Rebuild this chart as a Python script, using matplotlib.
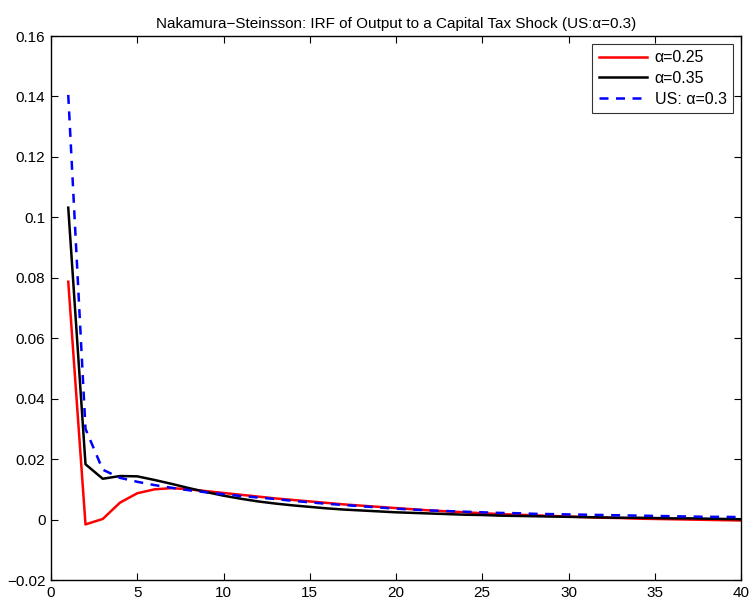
import matplotlib
matplotlib.use("Agg")
import matplotlib.pyplot as plt

plt.rcParams['font.family'] = ['Liberation Sans', 'DejaVu Sans']

periods = list(range(1, 41))
alpha_025 = [0.0787, -0.0016, 0.0002, 0.0056, 0.0087, 0.0100, 0.0104, 0.0100, 0.0094, 0.0088,
             0.0082, 0.0076, 0.0070, 0.0065, 0.0060, 0.0055, 0.0050, 0.0046, 0.0042, 0.0038,
             0.0034, 0.0030, 0.0027, 0.0024, 0.0021, 0.0018, 0.0016, 0.0014, 0.0012, 0.0010,
             0.0008, 0.0006, 0.0005, 0.0003, 0.0002, 0.0001, 0.0000, -0.0001, -0.0002, -0.0003]
alpha_035 = [0.1032, 0.0183, 0.0135, 0.0144, 0.0143, 0.0131, 0.0118, 0.0104, 0.0091, 0.0079,
             0.0069, 0.0060, 0.0053, 0.0047, 0.0042, 0.0037, 0.0033, 0.0030, 0.0027, 0.0024,
             0.0022, 0.0020, 0.0018, 0.0016, 0.0015, 0.0013, 0.0012, 0.0011, 0.0010, 0.0009,
             0.0008, 0.0007, 0.0006, 0.0006, 0.0005, 0.0004, 0.0004, 0.0003, 0.0002, 0.0001]
us_alpha_03 = [0.1405, 0.0300, 0.0165, 0.0138, 0.0125, 0.0114, 0.0105, 0.0097, 0.0090, 0.0084,
               0.0078, 0.0073, 0.0068, 0.0062, 0.0057, 0.0052, 0.0048, 0.0044, 0.0040, 0.0036,
               0.0033, 0.0030, 0.0028, 0.0026, 0.0024, 0.0022, 0.0021, 0.0019, 0.0018, 0.0017,
               0.0016, 0.0015, 0.0014, 0.0013, 0.0012, 0.0011, 0.0010, 0.0009, 0.0009, 0.0008]

xticks = [0, 5, 10, 15, 20, 25, 30, 35, 40]
yticks = [-0.02, 0, 0.02, 0.04, 0.06, 0.08, 0.1, 0.12, 0.14, 0.16]
ytick_labels = ['\u22120.02', '0', '0.02', '0.04', '0.06', '0.08', '0.1', '0.12', '0.14', '0.16']

fig = plt.figure(figsize=(7.5, 6.01), dpi=100)
ax = fig.add_axes([51/750, 21/601, 690/750, 544/601])

ax.plot(periods, alpha_025, color='#ff0000', lw=1.8, label='\u03b1=0.25')
ax.plot(periods, alpha_035, color='black', lw=1.8, label='\u03b1=0.35')
ax.plot(periods, us_alpha_03, color='#0000ff', lw=1.8, dashes=[3.6, 3.0], label='US: \u03b1=0.3')

ax.set_xlim(0, 40)
ax.set_ylim(-0.02, 0.16)
ax.set_xticks(xticks)
ax.set_yticks(yticks)
ax.set_yticklabels(ytick_labels)
ax.tick_params(direction='in', top=True, right=True, labelsize=11, length=5, width=0.8, pad=4)
for s in ax.spines.values():
    s.set_linewidth(1.0)

ax.set_title('Nakamura\u2212Steinsson: IRF of Output to a Capital Tax Shock (US:\u03b1=0.3)',
             fontsize=11, pad=6)

leg = ax.legend(loc='upper right', fontsize=11.5, frameon=True, fancybox=False,
                edgecolor='black', handlelength=3.0, borderaxespad=0.5,
                labelspacing=0.35, handletextpad=0.5, borderpad=0.4)
leg.get_frame().set_linewidth(0.8)

fig.savefig('out.png', dpi=100)
